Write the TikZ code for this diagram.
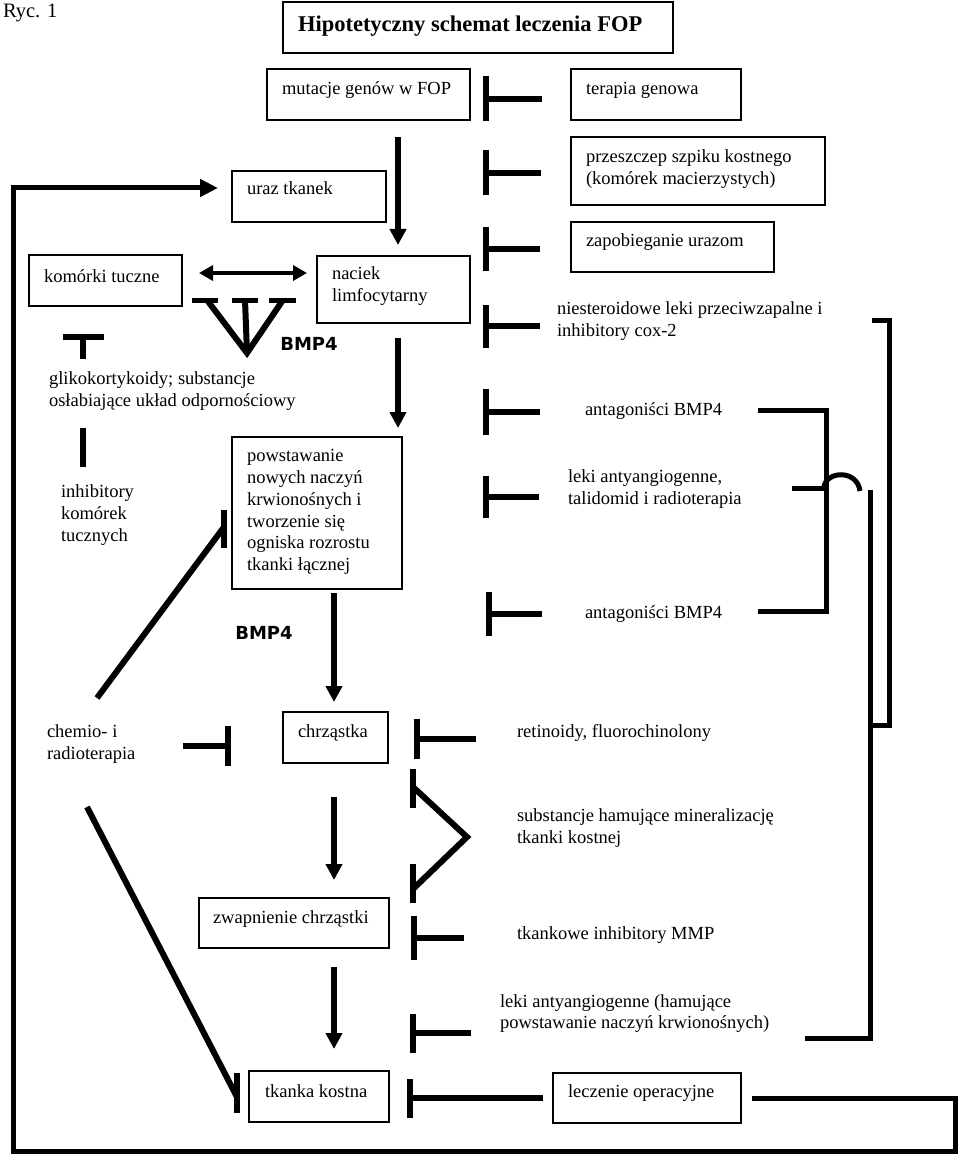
\documentclass[tikz,border=0pt]{standalone}
\usepackage{fontspec}
\setmainfont{Liberation Serif}
\newfontfamily\bmpfont{DejaVu Sans}
\usetikzlibrary{arrows.meta,calc}
\begin{document}
\begin{tikzpicture}[x=1pt,y=-1pt,
  txt/.style={font=\fontsize{18.5pt}{21.7pt}\selectfont, align=left, inner sep=0pt, outer sep=0pt},
  box/.style={draw, line width=1.3pt, anchor=north west, inner sep=0pt, outer sep=0pt},
  bmp/.style={font=\bmpfont\bfseries\fontsize{18pt}{20pt}\selectfont, inner sep=0pt, outer sep=0pt},
  inh/.style={line width=6pt, -{Bar[width=#1]}},
  tee/.style={line width=6pt},
  arr/.style={line width=5.5pt, -{Triangle[length=16pt,width=16pt]}},
  fb/.style={line width=5pt, line join=miter},
  brk/.style={line width=5pt, line join=miter},
]
\useasboundingbox (0,0) rectangle (960,1158);

% ---------- boxes ----------
\node[box, minimum width=390pt, minimum height=51pt] (title) at (283,2) {};
\node[box, minimum width=203pt, minimum height=51pt] (mut) at (267,69) {};
\node[box, minimum width=170pt, minimum height=51pt] (gen) at (571,69) {};
\node[box, minimum width=254pt, minimum height=68pt] (szpik) at (571,137) {};
\node[box, minimum width=154pt, minimum height=51pt] (uraz) at (232,171) {};
\node[box, minimum width=203pt, minimum height=50pt] (zapob) at (571,222) {};
\node[box, minimum width=153pt, minimum height=51pt] (tuczne) at (29,255) {};
\node[box, minimum width=153pt, minimum height=67pt] (naciek) at (317,256) {};
\node[box, minimum width=170pt, minimum height=152pt] (powst) at (232,437) {};
\node[box, minimum width=105pt, minimum height=51pt] (chrz) at (283,712) {};
\node[box, minimum width=190pt, minimum height=50pt] (zwap) at (199,898) {};
\node[box, minimum width=140pt, minimum height=51pt] (kost) at (249,1071) {};
\node[box, minimum width=188pt, minimum height=50pt] (oper) at (553,1073) {};

% ---------- texts ----------
\node[txt, font=\fontsize{20.5pt}{24pt}\selectfont, anchor=base west] (ryc) at (3,18) {Ryc. 1};
\node[txt, font=\bfseries\fontsize{22.5pt}{26pt}\selectfont, anchor=base west] (titlet) at (298,32) {Hipotetyczny schemat leczenia FOP};
\node[txt, anchor=base west] (mutt) at (282,95) {mutacje genów w FOP};
\node[txt, anchor=base west] (gent) at (586,95) {terapia genowa};
\node[txt, anchor=north west] (szpikt) at (586,147.8) {\strut przeszczep szpiku kostnego\\(komórek macierzystych)};
\node[txt, anchor=base west] (urazt) at (247,195) {uraz tkanek};
\node[txt, anchor=base west] (zapobt) at (586,247) {zapobieganie urazom};
\node[txt, anchor=base west] (tucznet) at (44,282) {komórki tuczne};
\node[txt, anchor=north west] (naciekt) at (332,264.8) {\strut naciek\\limfocytarny};
\node[bmp] (bmpA) at (309,344) {BMP4};
\node[txt, anchor=north west] (glikt) at (49,369.8) {\strut glikokortykoidy; substancje\\osłabiające układ odpornościowy};
\node[txt, anchor=north west] (niestt) at (557,299.8) {\strut niesteroidowe leki przeciwzapalne i\\inhibitory cox-2};
\node[txt, anchor=base west] (antagAt) at (585,415) {antagoniści BMP4};
\node[txt, anchor=north west] (inhibt) at (61,482.8) {\strut inhibitory\\komórek\\tucznych};
\node[txt, anchor=north west] (powstt) at (247,446.8) {\strut powstawanie\\nowych naczyń\\krwionośnych i\\tworzenie się\\ogniska rozrostu\\tkanki łącznej};
\node[txt, anchor=north west] (lekiAt) at (568,467.8) {\strut leki antyangiogenne,\\talidomid i radioterapia};
\node[txt, anchor=base west] (antagBt) at (585,618) {antagoniści BMP4};
\node[bmp] (bmpB) at (264,633) {BMP4};
\node[txt, anchor=north west] (chemt) at (47,722.8) {\strut chemio- i\\radioterapia};
\node[txt, anchor=base west] (chrzt) at (298,737) {chrząstka};
\node[txt, anchor=base west] (retint) at (517,737) {retinoidy, fluorochinolony};
\node[txt, anchor=north west] (substt) at (517,806.8) {\strut substancje hamujące mineralizację\\tkanki kostnej};
\node[txt, anchor=base west] (zwapt) at (213,923) {zwapnienie chrząstki};
\node[txt, anchor=base west] (tkankt) at (517,939) {tkankowe inhibitory MMP};
\node[txt, anchor=north west] (lekiBt) at (500,991.8) {\strut leki antyangiogenne (hamujące\\powstawanie naczyń krwionośnych)};
\node[txt, anchor=base west] (kostt) at (265,1097) {tkanka kostna};
\node[txt, anchor=base west] (opert) at (568,1097) {leczenie operacyjne};

% ---------- right column inhibitions ----------
\draw[inh=45pt] ($(gen.north west)+(-29,30)$) -- ($(gen.north west)+(-88,30)$);
\draw[inh=45pt] ($(szpik.north west)+(-30,36)$) -- ($(szpik.north west)+(-88,36)$);
\draw[inh=44pt] ($(zapob.north west)+(-31,27)$) -- ($(zapob.north west)+(-88,27)$);
\draw[inh=43pt] ($(niestt.north west)+(-17,26.2)$) -- ($(niestt.north west)+(-74,26.2)$);
\draw[inh=46pt] ($(antagAt.base west)+(-45,-3)$) -- ($(antagAt.base west)+(-102,-3)$);
\draw[inh=42pt] ($(lekiAt.north west)+(-29,29.2)$) -- ($(lekiAt.north west)+(-85,29.2)$);
\draw[inh=44pt] ($(antagBt.base west)+(-43,-4)$) -- ($(antagBt.base west)+(-99,-4)$);

% ---------- lower right inhibitions ----------
\draw[inh=40pt] ($(retint.base west)+(-41,2)$) -- ($(retint.base west)+(-103,2)$);
\draw[tee, line join=miter] ($(substt.north west)+(-104,-19.8)$) -- ($(substt.north west)+(-50,30.2)$) -- ($(substt.north west)+(-104,82.2)$);
\draw[tee] ($(substt.north west)+(-104,-37.8)$) -- ($(substt.north west)+(-104,1.2)$);
\draw[tee] ($(substt.north west)+(-104,57.2)$) -- ($(substt.north west)+(-104,96.2)$);
\draw[inh=44pt] ($(tkankt.base west)+(-53,-1)$) -- ($(tkankt.base west)+(-106,-1)$);
\draw[inh=39pt] ($(lekiBt.north west)+(-29,41.2)$) -- ($(lekiBt.north west)+(-90,41.2)$);
\draw[inh=39pt] ($(oper.north west)+(-10,25)$) -- ($(kost.north east)+(18,27)$);

% ---------- left side ----------
\draw[line width=4.5pt, {Triangle[length=14pt,width=15pt]}-{Triangle[length=14pt,width=15pt]}] ($(tuczne.north east)+(17,18)$) -- ($(naciek.north west)+(-10,17)$);
\coordinate (apex) at ($(tuczne.north east)+(65,98)$);
\draw[tee, line join=miter] ($(tuczne.north east)+(25,45)$) -- (apex) -- ($(tuczne.north east)+(101,45)$);
\draw[tee] ($(tuczne.north east)+(63,45)$) -- (apex);
\draw[line width=5pt] ($(tuczne.north east)+(10,45)$) -- ($(tuczne.north east)+(36,45)$);
\draw[line width=5pt] ($(tuczne.north east)+(50,45)$) -- ($(tuczne.north east)+(76,45)$);
\draw[line width=5pt] ($(tuczne.north east)+(87,45)$) -- ($(tuczne.north east)+(114,45)$);

\draw[inh=41pt] ($(glikt.north west)+(34,-10.8)$) -- ($(glikt.north west)+(34,-35.8)$);
\draw[tee] ($(glikt.north west)+(34,58.2)$) -- ($(inhibt.north west)+(22,-15.8)$);

\draw[tee] ($(chemt.north west)+(50,-24.8)$) -- ($(powst.north west)+(-8,90)$);
\draw[tee] ($(powst.north west)+(-8,73)$) -- ($(powst.north west)+(-8,111)$);
\draw[inh=40pt] ($(chrz.north west)+(-100,34)$) -- ($(chrz.north west)+(-52,34)$);
\draw[tee] ($(chemt.north west)+(40,84.2)$) -- ($(kost.north west)+(-12,26)$);
\draw[tee] ($(kost.north west)+(-12,2)$) -- ($(kost.north west)+(-12,42)$);

% ---------- main chain arrows ----------
\draw[arr] ($(mut.south east)+(-72,17)$) -- ($(naciek.north west)+(81,-11)$);
\draw[arr] ($(naciek.south west)+(81,15)$) -- ($(powst.north west)+(166,-9)$);
\draw[arr] ($(powst.south west)+(102,4)$) -- ($(chrz.north west)+(51,-10)$);
\draw[arr] ($(chrz.south west)+(51,34)$) -- ($(zwap.north west)+(135,-18)$);
\draw[arr] ($(zwap.south west)+(135,19)$) -- ($(kost.north west)+(85,-22)$);

% ---------- feedback loop ----------
\coordinate (loopBR) at (955,1151);
\coordinate (loopBL) at (13,1151);
\coordinate (loopTL) at (13,188);
\draw[fb, -{Triangle[length=18pt,width=17pt]}] ($(oper.north east)+(11,25)$) -| (loopBR) -- (loopBL) -- (loopTL) -- ($(uraz.north west)+(-14,17)$);

% ---------- brackets ----------
\draw[brk] (758,410) -- (826,410) -- (826,611) -- (758,611);
\draw[brk] (792,488) -- (826,488);
\draw[brk] (824,487) .. controls (826,471) and (857,469) .. (860,491);
\draw[brk] (872,320) -- (889,320) -- (889,725) -- (870,725);
\draw[brk] (870,490) -- (870,1038) -- (805,1038);
\end{tikzpicture}
\end{document}
